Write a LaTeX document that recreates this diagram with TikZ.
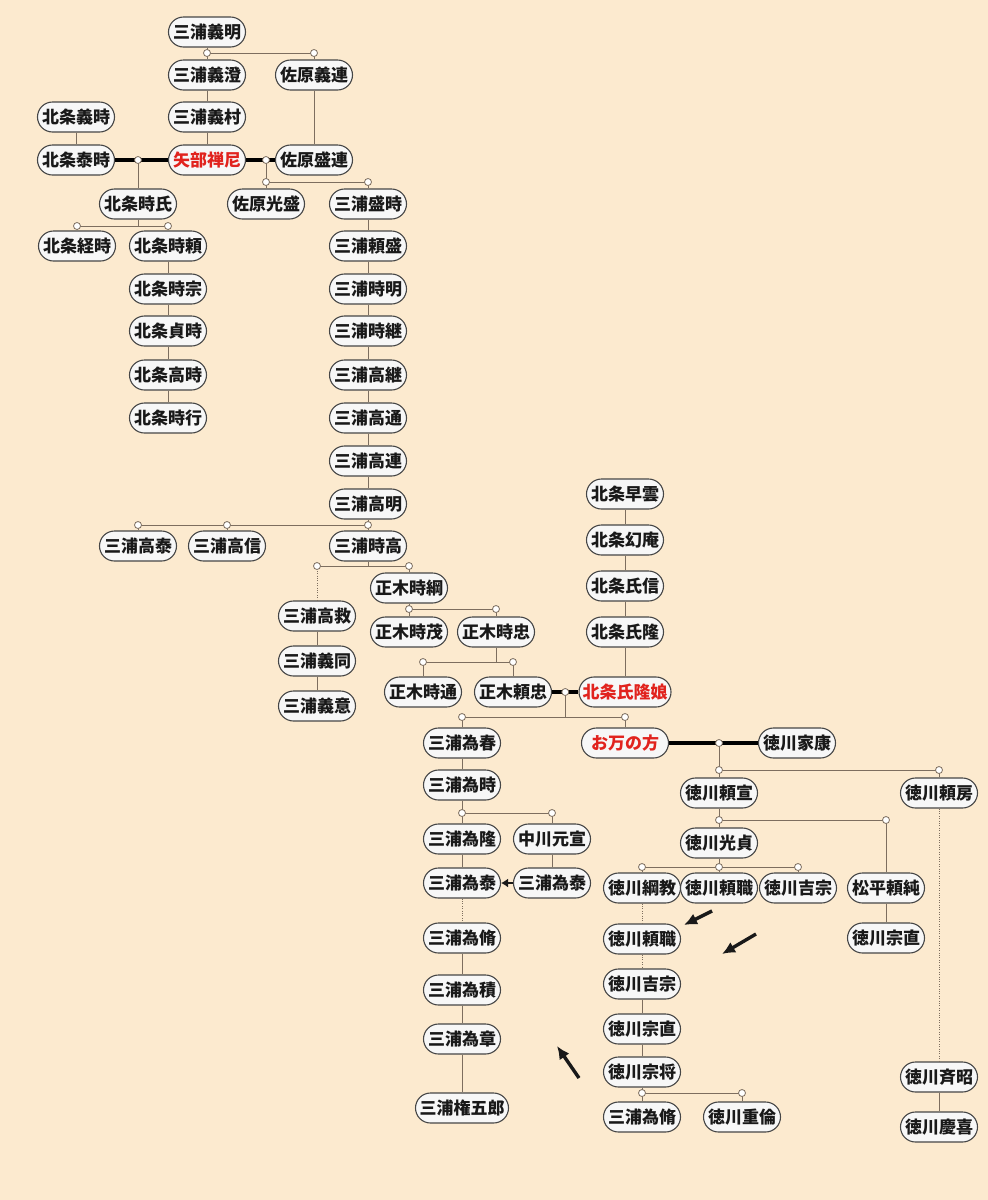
\documentclass[tikz,border=0pt]{standalone}
\usepackage{fontspec}
\newfontfamily\jp{Noto Sans CJK JP}
\usetikzlibrary{arrows.meta,calc}
\definecolor{bg}{RGB}{252,234,207}
\definecolor{ln}{RGB}{125,110,95}
\definecolor{bd}{RGB}{70,70,70}
\definecolor{rd}{RGB}{225,35,30}
\begin{document}
\begin{tikzpicture}[x=1pt,y=-1pt,
  person/.style={draw=bd, line width=1.1pt, fill=white!97!black, rounded corners=15pt,
    minimum width=77pt, minimum height=30pt, inner xsep=3.5pt, inner ysep=0pt,
    font=\jp\bfseries\fontsize{17}{19}\selectfont, text=black!90},
  rname/.style={text=rd},
  wide/.style={minimum width=87pt},
  conn/.style={draw=ln, line width=0.9pt},
  dotconn/.style={draw=ln, line width=0.9pt, dash pattern=on 1pt off 1.4pt},
  marr/.style={draw=black, line width=4pt},
  jn/.style={circle, draw=ln, fill=white, line width=0.8pt, inner sep=0pt, minimum size=7pt},
  bigarrow/.style={-{Latex[length=13pt,width=12pt]}, line width=3.4pt, draw=black!90},
  smallarrow/.style={-{Latex[length=7pt,width=9pt]}, line width=2.4pt, draw=black!90}
]
\useasboundingbox (0,0) rectangle (988,1200);
\fill[bg] (0,0) rectangle (988,1200);

% persons
\node[person] (ya) at (207,32) {三浦義明};
\node[person] (yz) at (207,75) {三浦義澄};
\node[person] (yr) at (314,75) {佐原義連};
\node[person] (hy) at (76,117) {北条義時};
\node[person] (ym) at (207,117) {三浦義村};
\node[person] (ht) at (76,160) {北条泰時};
\node[person,rname] (yb) at (207,160) {矢部禅尼};
\node[person] (sm) at (314,160) {佐原盛連};
\node[person] (tu) at (138,204) {北条時氏};
\node[person] (mi) at (266,204) {佐原光盛};
\node[person] (mt) at (368,204) {三浦盛時};
\node[person] (ts) at (77,246) {北条経時};
\node[person] (tr) at (168,246) {北条時頼};
\node[person] (tm) at (168,289) {北条時宗};
\node[person] (sd) at (168,331) {北条貞時};
\node[person] (tk) at (168,375) {北条高時};
\node[person] (ty) at (168,418) {北条時行};
\node[person] (m2) at (368,246) {三浦頼盛};
\node[person] (m3) at (368,289) {三浦時明};
\node[person] (m4) at (368,331) {三浦時継};
\node[person] (m5) at (368,375) {三浦高継};
\node[person] (m6) at (368,418) {三浦高通};
\node[person] (m7) at (368,461) {三浦高連};
\node[person] (m8) at (368,504) {三浦高明};
\node[person] (ktai) at (138,546) {三浦高泰};
\node[person] (knob) at (227,546) {三浦高信};
\node[person] (tt) at (368,546) {三浦時高};
\node[person] (kk) at (317,616) {三浦高救};
\node[person] (gd) at (317,661) {三浦義同};
\node[person] (gi) at (317,706) {三浦義意};
\node[person] (mtt) at (409,588) {正木時綱};
\node[person] (mts) at (409,632) {正木時茂};
\node[person] (mtc) at (496,632) {正木時忠};
\node[person] (mtd) at (423,692) {正木時通};
\node[person] (myt) at (513,692) {正木頼忠};
\node[person] (h1) at (625,494) {北条早雲};
\node[person] (h2) at (625,540) {北条幻庵};
\node[person] (h3) at (625,586) {北条氏信};
\node[person] (h4) at (625,632) {北条氏隆};
\node[person,rname,wide] (h5) at (625,692) {北条氏隆娘};
\node[person] (th) at (462,743) {三浦為春};
\node[person,rname,wide] (om) at (625,743) {お万の方};
\node[person] (ie) at (797,743) {徳川家康};
\node[person] (tj) at (462,785) {三浦為時};
\node[person] (tl) at (462,839) {三浦為隆};
\node[person] (nm) at (552,839) {中川元宣};
\node[person] (tya) at (462,883) {三浦為泰};
\node[person] (tyb) at (552,883) {三浦為泰};
\node[person] (tn) at (462,938) {三浦為脩};
\node[person] (tsk) at (462,990) {三浦為積};
\node[person] (tsh) at (462,1039) {三浦為章};
\node[person,minimum width=93pt] (gg) at (462,1108) {三浦権五郎};
\node[person] (yn) at (719,793) {徳川頼宣};
\node[person] (yf) at (939,793) {徳川頼房};
\node[person] (mk) at (719,843) {徳川光貞};
\node[person] (yj) at (886,888) {松平頼純};
\node[person] (tsn) at (642,888) {徳川綱教};
\node[person] (ys) at (719,888) {徳川頼職};
\node[person] (yo) at (798,888) {徳川吉宗};
\node[person] (ys2) at (642,939) {徳川頼職};
\node[person] (yo2) at (642,984) {徳川吉宗};
\node[person] (mn) at (642,1029) {徳川宗直};
\node[person] (ms) at (642,1072) {徳川宗将};
\node[person] (tn2) at (642,1117) {三浦為脩};
\node[person] (sr) at (742,1117) {徳川重倫};
\node[person] (mn2) at (886,938) {徳川宗直};
\node[person] (nr) at (939,1077) {徳川斉昭};
\node[person] (yk) at (939,1127) {徳川慶喜};

% bar levels
\coordinate (b1) at (0,53);
\coordinate (b2) at (0,182);
\coordinate (b3) at (0,226);
\coordinate (b4) at (0,525);
\coordinate (b5) at (0,566);
\coordinate (b6) at (0,609);
\coordinate (b7) at (0,662);
\coordinate (b8) at (0,717);
\coordinate (b9) at (0,770);
\coordinate (b10) at (0,820);
\coordinate (b11) at (0,867);
\coordinate (b12) at (0,1093);
\coordinate (b13) at (0,813);
% marriage points
\coordinate (mc1) at (tu |- ht);
\coordinate (mc2) at (mi |- yb);
\coordinate (mc3) at ($(myt.east)!0.5!(h5.west)$);
\coordinate (mc4) at (yn |- om);
% free arrows
\coordinate (a1s) at (712,911);
\coordinate (a1e) at (684,925);
\coordinate (a2s) at (756,934);
\coordinate (a2e) at (722,954);
\coordinate (a3s) at (579,1078);
\coordinate (a3e) at (557,1046);

% marriages
\draw[marr] (ht) -- (yb);
\draw[marr] (yb) -- (sm);
\draw[marr] (myt) -- (h5);
\draw[marr] (om) -- (ie);

% connectors
\draw[conn] (ya) -- (yz);
\draw[conn] (yz |- b1) -- (yr |- b1) -- (yr);
\draw[conn] (yz) -- (ym);
\draw[conn] (ym) -- (yb);
\draw[conn] (hy) -- (ht);
\draw[conn] (yr) -- (sm);
\draw[conn] (mc1) -- (tu);
\draw[conn] (mc2) -- (mi |- b2) -- (mt |- b2) -- (mt);
\draw[conn] (mi |- b2) -- (mi);
\draw[conn] (tu) -- (tu |- b3);
\draw[conn] (ts |- b3) -- (tr |- b3);
\draw[conn] (ts |- b3) -- (ts);
\draw[conn] (tr |- b3) -- (tr);
\draw[conn] (tr) -- (tm);
\draw[conn] (tm) -- (sd);
\draw[conn] (sd) -- (tk);
\draw[conn] (tk) -- (ty);
\draw[conn] (mt) -- (m2);
\draw[conn] (m2) -- (m3);
\draw[conn] (m3) -- (m4);
\draw[conn] (m4) -- (m5);
\draw[conn] (m5) -- (m6);
\draw[conn] (m6) -- (m7);
\draw[conn] (m7) -- (m8);
\draw[conn] (m8) -- (tt);
\draw[conn] (ktai |- b4) -- (tt |- b4);
\draw[conn] (ktai |- b4) -- (ktai);
\draw[conn] (knob |- b4) -- (knob);
\draw[conn] (tt) -- (tt |- b5);
\draw[conn] (kk |- b5) -- (mtt |- b5) -- (mtt);
\draw[dotconn] (kk |- b5) -- (kk);
\draw[conn] (kk) -- (gd);
\draw[conn] (gd) -- (gi);
\draw[conn] (mtt) -- (mts |- b6) -- (mtc |- b6) -- (mtc);
\draw[conn] (mts |- b6) -- (mts);
\draw[conn] (mtc) -- (mtc |- b7);
\draw[conn] (mtd |- b7) -- (myt |- b7) -- (myt);
\draw[conn] (mtd |- b7) -- (mtd);
\draw[conn] (h1) -- (h2);
\draw[conn] (h2) -- (h3);
\draw[conn] (h3) -- (h4);
\draw[conn] (h4) -- (h5);
\draw[conn] (mc3) -- (mc3 |- b8);
\draw[conn] (th |- b8) -- (om |- b8) -- (om);
\draw[conn] (th |- b8) -- (th);
\draw[conn] (mc4) -- (yn |- b9);
\draw[conn] (yn |- b9) -- (yf |- b9) -- (yf);
\draw[conn] (yn |- b9) -- (yn);
\draw[conn] (th) -- (tj);
\draw[conn] (tj) -- (tl |- b13) -- (nm |- b13) -- (nm);
\draw[conn] (tl |- b13) -- (tl);
\draw[conn] (tl) -- (tya);
\draw[conn] (nm) -- (tyb);
\draw[smallarrow] (tyb) -- (tya);
\draw[dotconn] (tya) -- (tn);
\draw[conn] (tn) -- (tsk);
\draw[conn] (tsk) -- (tsh);
\draw[conn] (tsh) -- (gg);
\draw[conn] (yn) -- (mk |- b10) -- (yj |- b10) -- (yj);
\draw[conn] (mk |- b10) -- (mk);
\draw[conn] (mk) -- (ys |- b11);
\draw[conn] (tsn |- b11) -- (yo |- b11);
\draw[conn] (tsn |- b11) -- (tsn);
\draw[conn] (ys |- b11) -- (ys);
\draw[conn] (yo |- b11) -- (yo);
\draw[dotconn] (tsn) -- (ys2);
\draw[dotconn] (ys2) -- (yo2);
\draw[conn] (yo2) -- (mn);
\draw[conn] (mn) -- (ms);
\draw[conn] (ms) -- (tn2 |- b12) -- (sr |- b12) -- (sr);
\draw[conn] (tn2 |- b12) -- (tn2);
\draw[conn] (yj) -- (mn2);
\draw[dotconn] (yf) -- (nr);
\draw[conn] (nr) -- (yk);

% junction circles
\foreach \p in {yz |- b1, yr |- b1, mc1, mc2, mi |- b2, mt |- b2, ts |- b3, tr |- b3,
  ktai |- b4, knob |- b4, tt |- b4, kk |- b5, mtt |- b5, mts |- b6, mtc |- b6,
  mtd |- b7, myt |- b7, mc3, th |- b8, om |- b8, mc4, yn |- b9, yf |- b9,
  mk |- b10, yj |- b10, tsn |- b11, ys |- b11, yo |- b11, tn2 |- b12, sr |- b12,
  tl |- b13, nm |- b13}
  \node[jn] at (\p) {};

% free arrows
\draw[bigarrow] (a1s) -- (a1e);
\draw[bigarrow] (a2s) -- (a2e);
\draw[bigarrow] (a3s) -- (a3e);
\end{tikzpicture}
\end{document}
